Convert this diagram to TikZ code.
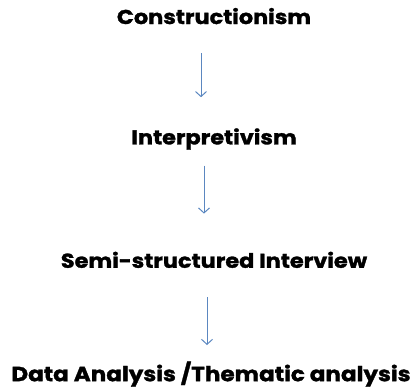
\documentclass[tikz,border=0pt]{standalone}
\usepackage{fontspec}
\setmainfont{Poppins}[BoldFeatures={FakeBold=1.5, FakeStretch=1.12}]
\usetikzlibrary{positioning, arrows.meta}
\definecolor{flowblue}{RGB}{91,135,192}

\begin{document}
\begin{tikzpicture}[x=1pt, y=1pt, node distance=105pt,
    stage/.style={font=\bfseries\fontsize{20}{24}\selectfont, inner sep=0pt, text height=14pt, text depth=4pt},
    arrow/.style={-{Straight Barb[length=5pt, width=11pt]}, flowblue, line width=1pt}]
\useasboundingbox (0,0) rectangle (420,-389);

% Nodes
\node [stage] (constr) at (214,-19) {Constructionism};
\node [stage, below=102pt of constr] (interp) {Interpretivism};
\node [stage, below=of interp] (semi) {Semi-structured Interview};
\node [stage, below=94pt of semi, font=\bfseries\fontsize{20.6}{25}\selectfont, text height=15pt, text depth=6pt, xshift=-3pt] (analysis) {Data Analysis /Thematic analysis};

% Arrows
\draw [arrow] ([xshift=-13pt, yshift=-25pt]constr.south) -- ([xshift=-13pt, yshift=33pt]interp.north);
\draw [arrow] ([xshift=-10pt, yshift=-17pt]interp.south) -- ([xshift=-10pt, yshift=40pt]semi.north);
\draw [arrow] ([xshift=-7pt, yshift=-25pt]semi.south) -- ([xshift=-4pt, yshift=21pt]analysis.north);

\end{tikzpicture}
\end{document}
